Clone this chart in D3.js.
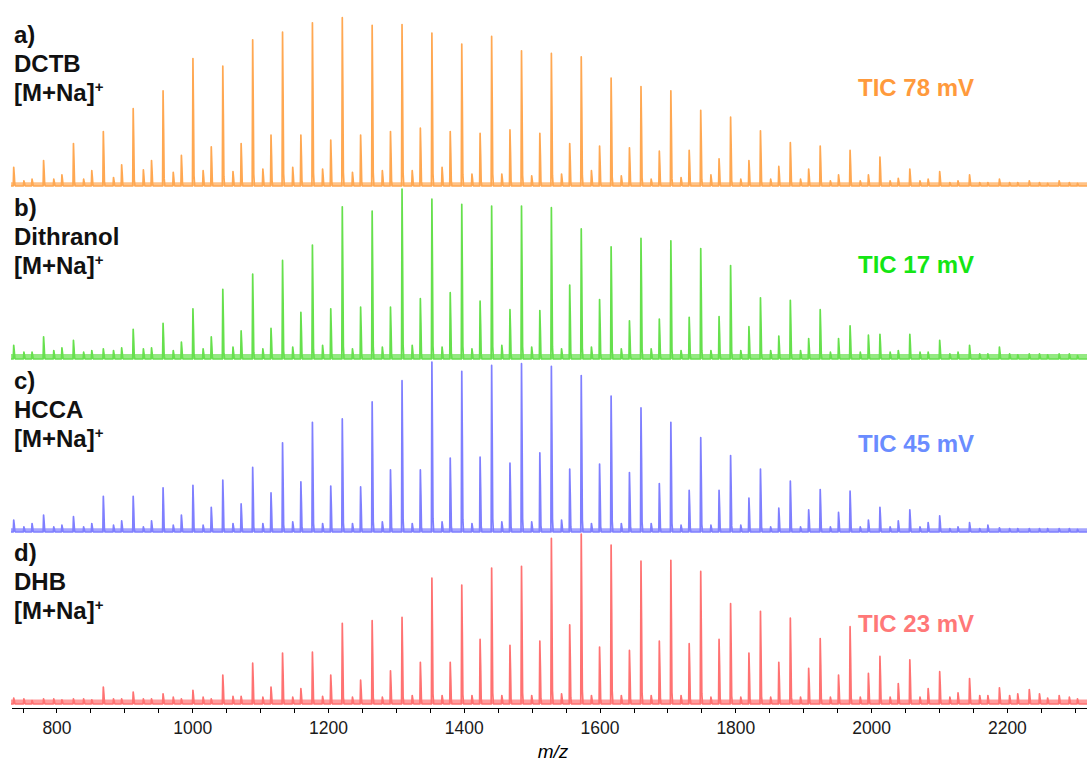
<!DOCTYPE html>
<html lang="en">
<head>
<meta charset="UTF-8">
<title></title>
<script type="text/javascript" src="https://cdnjs.cloudflare.com/ajax/libs/d3/7.8.5/d3.min.js"></script>
<style>
    body{
        margin: 0;
        background: #fff;
    }
    svg text{
        font-family: "Liberation Sans", Arial, sans-serif;
    }
    .lbl{
        font-weight: bold;
        font-size: 24px;
        fill: #111;
    }
    .tic{
        font-weight: bold;
        font-size: 24px;
    }
    .axis text{
        font-size: 17.5px;
        fill: #1a1a1a;
    }
    .axis path,
    .axis line{
        stroke: #000;
        shape-rendering: crispEdges;
    }
</style>
</head>
<body>
<svg id="chart" width="1087" height="763"></svg>
<script type="text/javascript">
    // m/z of the three PEG series ([M+Na]+ main, -17 and +15 satellites)
    var mzMain = [737,781,825,869,913,957,1001,1045,1089,1133,1177,1221,1265,1309,1353,1397,1441,1485,
                  1529,1573,1617,1661,1705,1749,1793,1837,1881,1925,1969,2013,2057,2101,2145,2189,2233,2277];
    var mzSec  = [764,808,852,896,940,984,1028,1072,1116,1160,1204,1248,1292,1336,1380,1424,1468,1512,
                  1556,1600,1644,1688,1732,1776,1820,1864,1908,1952,1996,2040,2084,2128,2172,2216,2260,2304];
    var mzTert = [752,796,840,884,928,972,1016,1060,1104,1148,1192,1236,1280,1324,1368,1412,1456,1500,
                  1544,1588,1632,1676,1720,1764,1808,1852,1896,1940,1984,2028,2072,2116,2160,2204,2248,2292];

    // relative intensities (% of the base peak) per matrix
    var dctbMain = [11,15,25,32,45.5,56,75,70.5,86,90.5,96,99,94.5,95,90,83.5,88,79.5,
                    78,76,63.5,58.5,56,44.5,40.5,32.5,25.5,23.5,21,17,10,8.5,6.5,4,3,3];
    var dctbSec  = [4,6.5,9,12.5,15,18,23,25,30,30,27,30,32,34,32,31,33,31,
                    25,23.5,22.5,20.5,21,16,15,11.5,10,6.5,6.5,4.5,4,3,2,2,1.5,1.5];
    var dctbTert = [3,4,4,5,9.5,8,9,8.5,10,11,10,8,9,9,11,7,7,6,
                    7,9,6,4,5,6.5,4,4,4,3,3,3,3,2,2,2,2,2];

    var dithMain = [8,13,11,6,17.5,21,29.5,41,50,58,67,89.5,87,100,94,91,90,90,
                    89,76.5,66,71,69.5,65,55,36,34.5,29,19.5,14.5,14.5,11,8,7,3,3];
    var dithSec  = [4,6.5,5,6.5,6.5,10,13,16.5,18,27.5,29.5,30.5,30.5,35.5,39,34,29,28.5,
                    43.5,35,22.5,23.5,24.5,25,19,13.5,12,12,14,5,4,4,3,2.5,2.5,2];
    var dithTert = [4,5,4,5,6,5,6,7,6,7,8,6,7,8,7,6,8,7,
                    6,7,6,6,5,5,5,5,5,4,4,4,4,3,3,3,3,3];

    var hccaMain = [7,10,9,21,21,26,27.5,30.5,38,52.5,64.5,66.5,76.5,89,100,94.5,98,99,
                    97.5,92,80,73,64.5,55.5,45,37,30,25,24,14.5,13,9.5,5.5,2.5,2,2];
    var hccaSec  = [5,4,5,6.5,6.5,10,14.5,16.5,23,29.5,27,26.5,36.5,36.5,43.5,44,40.5,46.5,
                    37,40,35,28.5,24.5,24.5,20,14,13,11.5,7,6.5,5.5,3,4,2,2,1.5];
    var hccaTert = [3,3,3,4,3,4,4,5,5,6,5,5,6,5,6,5,6,6,
                    7,5,5,5,4,4,4,3,3,3,3,3,3,2,2,2,2,2];

    var dhbMain  = [3.5,3,3,10,7,6,8,17,24,30,30.5,47.5,49,51,74,70,80,81,
                    97.5,100,93.5,84,84.5,78,59,54.5,50.5,38.5,45.5,28,26,19,15,9.5,8.5,5];
    var dhbSec   = [2,2.5,2.5,3,3,3,3,4.5,10,9,17,14,19.5,24.5,24.5,38,34.5,37,
                    46.5,33.5,31.5,37,35.5,38,30,24.5,21,17,18,12,9,6.5,5,6,3.5,3];
    var dhbTert  = [3,3,3,3,3,4,4,4.5,4,4,4.5,4,4,5,5,5,5,5,
                    6,5,5,5,5,4,4,4,4,4,4,4,4,4,5,5,6,4];

    var noiseLevel = [2.2, 3, 2.2, 2.6];

    var panelKeys  = ["a)", "b)", "c)", "d)"];
    var matrices   = ["DCTB", "Dithranol", "HCCA", "DHB"];
    var ticLabels  = ["TIC 78 mV", "TIC 17 mV", "TIC 45 mV", "TIC 23 mV"];
    var tickValues = [750,800,850,900,950,1000,1050,1100,1150,1200,1250,1300,1350,1400,1450,1500,
                      1550,1600,1650,1700,1750,1800,1850,1900,1950,2000,2050,2100,2150,2200,2250,2300];

    // layout
    var lineColors = ["#ffa852", "#66e04d", "#7f7fff", "#ff7272"];
    var ticColors  = ["#ff9a3c", "#14e614", "#6a8cff", "#ff7878"];
    var baselines  = [186, 359, 532, 704];
    var ticY       = [96, 273, 452, 632];
    var panelH     = 170;

    var svg = d3.select("#chart");
    var x = d3.scaleLinear().domain([733, 2318]).range([11, 1087]);

    var seriesMain = [dctbMain, dithMain, hccaMain, dhbMain];
    var seriesSec  = [dctbSec, dithSec, hccaSec, dhbSec];
    var seriesTert = [dctbTert, dithTert, hccaTert, dhbTert];

    function peaksFor(i){
        var p = [];
        mzMain.forEach(function(m,k){ p.push({mz:m, h:seriesMain[i][k]}); });
        mzSec.forEach(function(m,k){ p.push({mz:m, h:seriesSec[i][k]}); });
        mzTert.forEach(function(m,k){ p.push({mz:m, h:seriesTert[i][k]}); });
        p.sort(function(a,b){ return a.mz - b.mz; });
        return p;
    }

    // draw bottom panel first so upper traces sit on top
    [3,2,1,0].forEach(function(i){
        var y = d3.scaleLinear().domain([0,100]).range([baselines[i], baselines[i]-panelH]);
        var g = svg.append("g").attr("class","panel");

        // noise band at the baseline
        g.append("path")
            .datum(x.domain())
            .attr("fill", lineColors[i])
            .attr("fill-opacity", 0.7)
            .attr("d", d3.area().x(function(d){return x(d);}).y0(y(0)).y1(y(noiseLevel[i])));

        // peak profile: sharp rise, isotope shoulder, short tail
        var pts = [[x.domain()[0],0]];
        peaksFor(i).forEach(function(p){
            pts.push([p.mz-0.7,0],[p.mz,p.h],[p.mz+0.8,p.h*0.6],[p.mz+1.6,p.h*0.08],[p.mz+2.6,0]);
        });
        pts.push([x.domain()[1],0]);

        g.append("path")
            .datum(pts)
            .attr("fill","none")
            .attr("stroke", lineColors[i])
            .attr("stroke-width", 1.7)
            .attr("stroke-linejoin","round")
            .attr("d", d3.line().x(function(d){return x(d[0]);}).y(function(d){return y(d[1]);}));

        var b = baselines[i];
        g.append("text").attr("class","lbl").attr("x",14).attr("y",b-143).text(panelKeys[i]);
        g.append("text").attr("class","lbl").attr("x",14).attr("y",b-114).text(matrices[i]);
        var t = g.append("text").attr("class","lbl").attr("x",14).attr("y",b-85);
        t.append("tspan").text("[M+Na]");
        t.append("tspan").attr("font-size",15).attr("dy",-9).text("+");

        g.append("text").attr("class","tic")
            .attr("x",858).attr("y",ticY[i])
            .attr("fill",ticColors[i])
            .text(ticLabels[i]);
    });

    var axis = d3.axisBottom(x)
        .tickValues(tickValues)
        .tickSize(5)
        .tickSizeOuter(0)
        .tickPadding(9)
        .tickFormat(function(d){ return d % 200 === 0 ? d : ""; });

    svg.append("g")
        .attr("class","axis")
        .attr("transform","translate(0,708)")
        .call(axis);

    svg.append("text")
        .attr("x",553).attr("y",758)
        .attr("text-anchor","middle")
        .attr("font-size",19)
        .attr("font-style","italic")
        .text("m/z");
</script>
</body>
</html>
